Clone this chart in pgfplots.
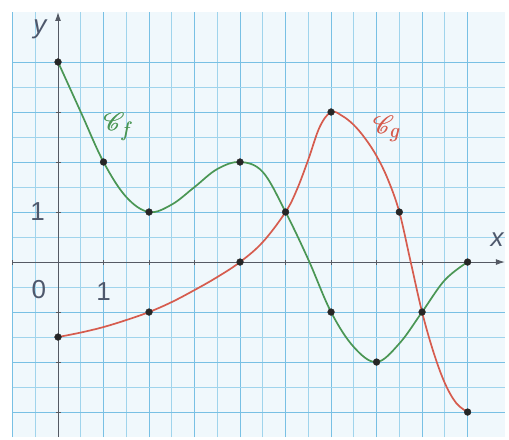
\documentclass[border=0pt]{standalone}
\usepackage{pgfplots}
\pgfplotsset{compat=1.18}
\usepackage{mathrsfs}
\usepackage{fontspec}
\setmainfont{Liberation Sans}
\usetikzlibrary{arrows.meta}

\definecolor{bgblue}{RGB}{240,248,252}
\definecolor{gridmaj}{RGB}{120,192,228}
\definecolor{gridmin}{RGB}{160,212,236}
\definecolor{fgreen}{RGB}{74,150,84}
\definecolor{gred}{RGB}{214,92,78}
\definecolor{labgray}{RGB}{78,88,108}
\definecolor{axgray}{RGB}{85,90,100}

\begin{document}
\begin{tikzpicture}
\begin{axis}[
    x=45.5pt, y=50pt,
    xmin=-1, xmax=9.82,
    ymin=-3.5, ymax=5,
    axis lines=middle,
    axis line style={draw=axgray, line width=1pt, -{Latex[length=9pt,width=6pt]}},
    axis background/.style={fill=bgblue},
    xtick={-1,0,...,9}, ytick={-3,-2,...,4},
    minor x tick num=1, minor y tick num=1,
    grid=both,
    major grid style={draw=gridmaj, line width=0.9pt},
    minor grid style={draw=gridmin, line width=0.8pt},
    major tick length=5pt, minor tick length=0pt,
    tick style={draw=axgray, line width=0.8pt},
    xticklabel=\empty, yticklabel=\empty,
    clip=false,
]
% courbe de f
\addplot[fgreen, line width=1.7pt, smooth, tension=0.6] coordinates {
    (0,4) (0.5,3.0) (1,2) (1.5,1.3) (2,1) (2.5,1.15) (3,1.5) (3.5,1.86) (4,2)
    (4.5,1.8) (5,1) (5.5,0.05) (6,-1) (6.5,-1.7) (7,-2) (7.5,-1.63) (8,-1)
    (8.5,-0.36) (9,0)
};
% courbe de g
\addplot[gred, line width=1.7pt, smooth, tension=0.6] coordinates {
    (0,-1.5) (0.5,-1.41) (1,-1.3) (1.5,-1.16) (2,-1) (2.5,-0.8) (3,-0.56)
    (3.5,-0.3) (4,0) (4.5,0.4) (5,1) (5.25,1.45) (5.5,2.05) (5.75,2.7) (6,3)
    (6.25,2.92) (6.5,2.74) (6.75,2.47) (7,2.12) (7.25,1.65) (7.5,1) (7.75,0)
    (8,-1) (8.25,-1.8) (8.5,-2.42) (8.75,-2.82) (9,-3)
};
% points
\addplot[only marks, mark=*, mark size=3.4pt, color=black!85] coordinates {
    (0,4) (1,2) (2,1) (4,2) (5,1) (6,-1) (7,-2) (8,-1) (9,0)
    (0,-1.5) (2,-1) (4,0) (6,3) (7.5,1) (9,-3)
};
\node[labgray, font=\fontsize{26}{28}\selectfont\itshape] at (axis cs:-0.4,4.66) {y};
\node[labgray, font=\fontsize{26}{28}\selectfont\itshape] at (axis cs:9.65,0.45) {x};
\node[labgray, font=\fontsize{26}{28}\selectfont] at (axis cs:-0.42,-0.55) {0};
\node[labgray, font=\fontsize{26}{28}\selectfont] at (axis cs:1,-0.6) {1};
\node[labgray, font=\fontsize{26}{28}\selectfont] at (axis cs:-0.45,1) {1};
% noms des courbes (double pour epaissir le trait)
\node[fgreen, font=\fontsize{30}{32}\selectfont] at (axis cs:1.32,2.7) {$\mathscr{C}_{f}$};
\node[fgreen, font=\fontsize{30}{32}\selectfont, xshift=0.5pt] at (axis cs:1.32,2.7) {$\mathscr{C}_{f}$};
\node[gred, font=\fontsize{30}{32}\selectfont] at (axis cs:7.22,2.66) {$\mathscr{C}_{g}$};
\node[gred, font=\fontsize{30}{32}\selectfont, xshift=0.5pt] at (axis cs:7.22,2.66) {$\mathscr{C}_{g}$};
\coordinate (bl) at (axis cs:-1.275,-3.54);
\coordinate (tr) at (axis cs:9.91,5.24);
\end{axis}
\pgfresetboundingbox
\path[use as bounding box] (bl) rectangle (tr);
\end{tikzpicture}
\end{document}
